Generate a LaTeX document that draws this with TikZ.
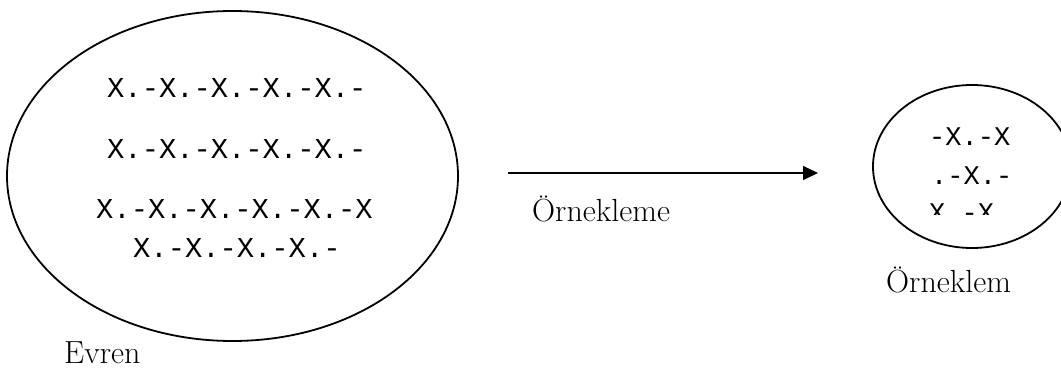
\documentclass[tikz,border=0pt]{standalone}
\usepackage{fontspec}
\newfontfamily\xfont{Liberation Mono}
\usetikzlibrary{arrows.meta}
\begin{document}
\begin{tikzpicture}[x=1pt,y=-1pt,
  xrow/.style={anchor=base west,inner sep=0pt,font=\xfont\fontsize{28.8}{30}\selectfont},
  srow/.style={anchor=base west,inner sep=0pt,font=\xfont\fontsize{27}{29}\selectfont},
  lbl/.style={anchor=base west,inner sep=0pt,font=\fontsize{32}{34}\selectfont}]
  \useasboundingbox (0,0) rectangle (1061,369);
  \clip (0,0) rectangle (1061,369);
  \draw[line width=1.8pt] (232.5,176) ellipse (225.5 and 165);
  \node[xrow] (r1) at (107,98) {X.-X.-X.-X.-X.-};
  \node[xrow] (r2) at (107,158) {X.-X.-X.-X.-X.-};
  \node[xrow] (r3) at (96,218) {X.-X.-X.-X.-X.-X};
  \node[xrow] (r4) at (133,257) {X.-X.-X.-X.-};
  \node[lbl] (evren) at (64,363) {Evren};
  \coordinate (from) at (508,173);
  \coordinate (to) at (818,173);
  \draw[line width=1.2pt,-{Triangle[length=15pt,width=14pt]}] (from) -- (to);
  \node[lbl] (ornekleme) at (532,221) {Örnekleme};
  \draw[line width=1.8pt] (972,166.5) ellipse (99 and 81.5);
  \begin{scope}
    \clip (880,100) rectangle (1061,214);
    \node[srow] (s1) at (929,145) {-X.-X};
    \node[srow] (s2) at (931,184) {.-X.-};
    \node[srow] (s3) at (929,221.5) {X.-X};
  \end{scope}
  \node[lbl] (orneklem) at (886,292) {Örneklem};
\end{tikzpicture}
\end{document}
